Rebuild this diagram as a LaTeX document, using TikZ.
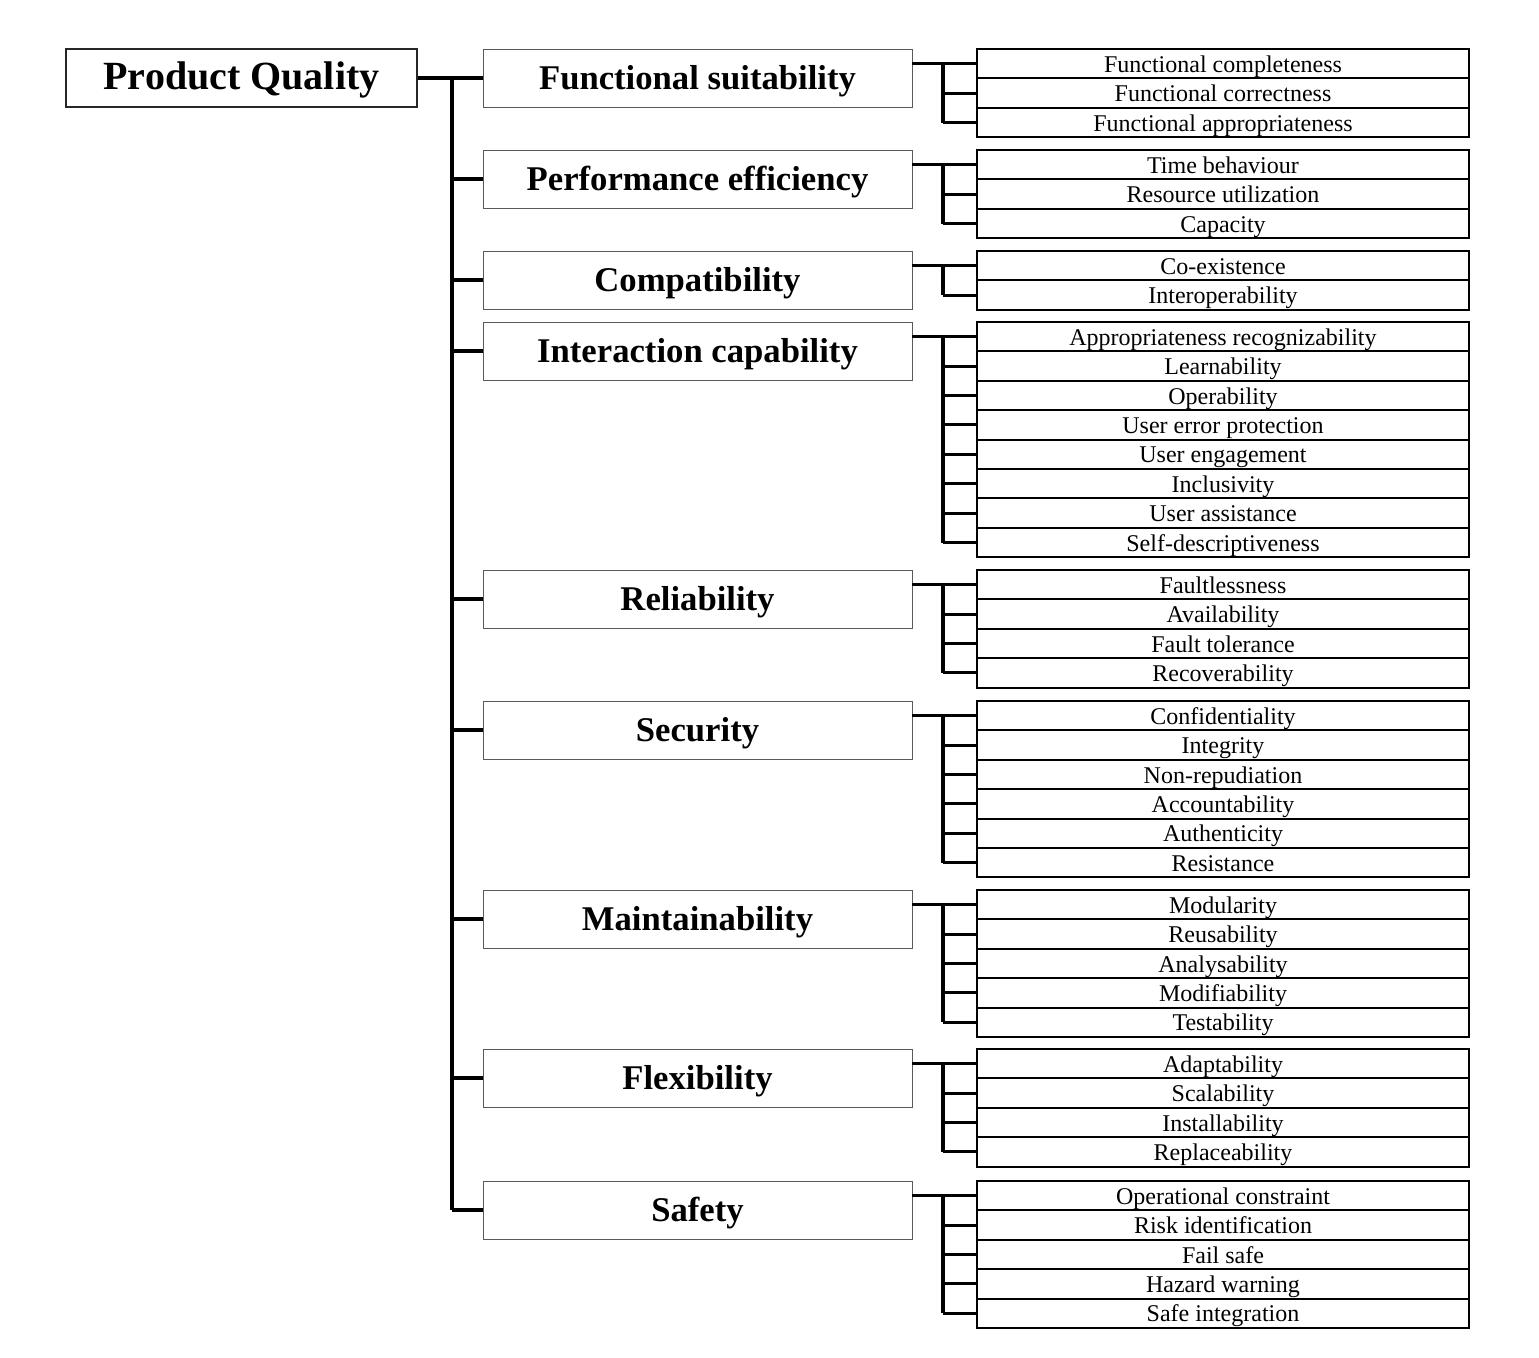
\documentclass[tikz,border=0pt]{standalone}
\usepackage{fontspec}
\setmainfont{Liberation Serif}
\begin{document}
\begin{tikzpicture}[x=0.75pt,y=-0.75pt,
  conn/.style={line width=2.3pt,black},
  titlebox/.style={draw=black!85,line width=1pt,minimum width=263.25pt,minimum height=43.5pt,inner sep=0pt,text height=22.25pt,text depth=4.75pt,font=\fontsize{30}{34}\selectfont\bfseries},
  mainbox/.style={draw=black!65,line width=0.7pt,minimum width=321.75pt,minimum height=43.5pt,inner sep=0pt,text height=20.5pt,text depth=3pt,font=\fontsize{26}{30}\selectfont\bfseries},
  subbox/.style={draw=black,line width=1.5pt,minimum width=369pt,minimum height=22.05pt,inner sep=0pt,text height=14.75pt,text depth=1.75pt,font=\fontsize{18}{21}\selectfont}]
\useasboundingbox (0,0) rectangle (1539,1357);
\newcommand\subgroup[3]{%
  \foreach \t [count=\i] in {#3} {
    \node[subbox] (#1s\i) at (1223,{#2+(\i-0.5)*29.4}) {\t};
    \draw[conn] (sx |- #1s\i.west) -- (#1s\i.west);
    \xdef\lastn{\i}
  }
  \draw[conn] (#1.east |- #1s1.west) -- (#1s1.west);
  \draw[conn] (sx |- #1s1.west) -- (sx |- #1s\lastn.west);
}
\coordinate (trunk) at (452,0);
\coordinate (sx) at (943,0);
\node[titlebox] (pq) at (241.5,78) {Product Quality};
\node[mainbox] (fs) at (697.5,78) {Functional suitability};
\node[mainbox] (pe) at (697.5,179) {Performance efficiency};
\node[mainbox] (co) at (697.5,280) {Compatibility};
\node[mainbox] (ic) at (697.5,351) {Interaction capability};
\node[mainbox] (re) at (697.5,599) {Reliability};
\node[mainbox] (se) at (697.5,730) {Security};
\node[mainbox] (ma) at (697.5,919) {Maintainability};
\node[mainbox] (fl) at (697.5,1078) {Flexibility};
\node[mainbox] (sa) at (697.5,1210) {Safety};
\draw[conn] (pq.east) -- (fs.west);
\draw[conn] (trunk |- fs.west) -- (trunk |- sa.west);
\foreach \m in {pe,co,ic,re,se,ma,fl,sa} {\draw[conn] (trunk |- \m.west) -- (\m.west);}
\subgroup{fs}{49}{Functional completeness,Functional correctness,Functional appropriateness}
\subgroup{pe}{150}{Time behaviour,Resource utilization,Capacity}
\subgroup{co}{251}{Co-existence,Interoperability}
\subgroup{ic}{322}{Appropriateness recognizability,Learnability,Operability,User error protection,User engagement,Inclusivity,User assistance,Self-descriptiveness}
\subgroup{re}{570}{Faultlessness,Availability,Fault tolerance,Recoverability}
\subgroup{se}{701}{Confidentiality,Integrity,Non-repudiation,Accountability,Authenticity,Resistance}
\subgroup{ma}{890}{Modularity,Reusability,Analysability,Modifiability,Testability}
\subgroup{fl}{1049}{Adaptability,Scalability,Installability,Replaceability}
\subgroup{sa}{1181}{Operational constraint,Risk identification,Fail safe,Hazard warning,Safe integration}
\end{tikzpicture}
\end{document}
